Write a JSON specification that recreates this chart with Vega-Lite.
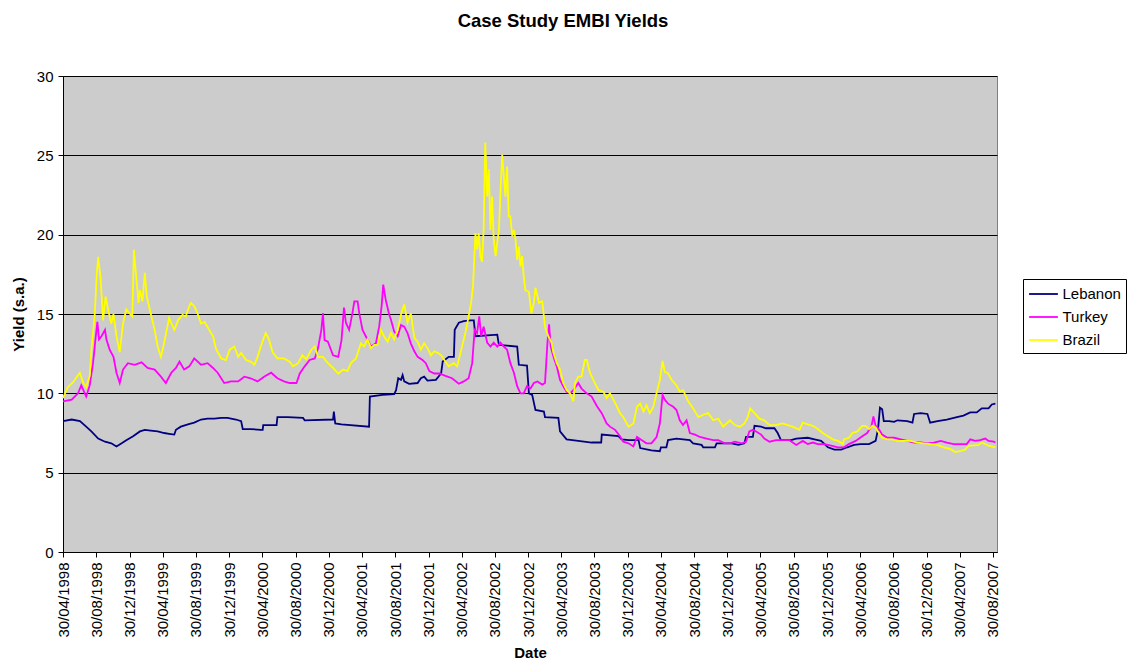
{
"$schema": "https://vega.github.io/schema/vega-lite/v6.json",
"width": 934, "height": 476,
"autosize": {"type": "none"},
"padding": {"left": 63, "top": 76, "right": 136, "bottom": 114},
"background": "white",
"title": {"text": "Case Study EMBI Yields", "font": "Liberation Sans", "fontSize": 18.5, "fontWeight": "bold", "color": "black", "anchor": "middle", "frame": "group", "dx": 33, "offset": 24, "baseline": "alphabetic"},
"config": {"view": {"fill": "#cccccc", "stroke": "#808080", "strokeWidth": 1}},
"data": {"values": [
{"s":"Lebanon","d":"1998-04-30","v":8.25},{"s":"Lebanon","d":"1998-06-01","v":8.35},{"s":"Lebanon","d":"1998-07-01","v":8.25},{"s":"Lebanon","d":"1998-07-24","v":7.9},{"s":"Lebanon","d":"1998-08-12","v":7.6},{"s":"Lebanon","d":"1998-09-06","v":7.15},{"s":"Lebanon","d":"1998-10-01","v":6.95},{"s":"Lebanon","d":"1998-10-24","v":6.85},{"s":"Lebanon","d":"1998-11-12","v":6.65},{"s":"Lebanon","d":"1998-12-01","v":6.85},{"s":"Lebanon","d":"1998-12-18","v":7.05},{"s":"Lebanon","d":"1999-01-12","v":7.3},{"s":"Lebanon","d":"1999-02-06","v":7.6},{"s":"Lebanon","d":"1999-02-24","v":7.7},{"s":"Lebanon","d":"1999-03-18","v":7.65},{"s":"Lebanon","d":"1999-04-12","v":7.6},{"s":"Lebanon","d":"1999-05-06","v":7.5},{"s":"Lebanon","d":"1999-05-24","v":7.45},{"s":"Lebanon","d":"1999-06-12","v":7.4},{"s":"Lebanon","d":"1999-06-18","v":7.7},{"s":"Lebanon","d":"1999-07-06","v":7.9},{"s":"Lebanon","d":"1999-08-01","v":8.05},{"s":"Lebanon","d":"1999-08-24","v":8.15},{"s":"Lebanon","d":"1999-09-18","v":8.35},{"s":"Lebanon","d":"1999-10-12","v":8.4},{"s":"Lebanon","d":"1999-11-06","v":8.4},{"s":"Lebanon","d":"1999-12-01","v":8.45},{"s":"Lebanon","d":"1999-12-24","v":8.45},{"s":"Lebanon","d":"2000-01-24","v":8.35},{"s":"Lebanon","d":"2000-02-12","v":8.25},{"s":"Lebanon","d":"2000-02-18","v":7.75},{"s":"Lebanon","d":"2000-03-18","v":7.75},{"s":"Lebanon","d":"2000-04-24","v":7.7},{"s":"Lebanon","d":"2000-05-01","v":7.7},{"s":"Lebanon","d":"2000-05-03","v":8.0},{"s":"Lebanon","d":"2000-06-21","v":8.0},{"s":"Lebanon","d":"2000-06-24","v":8.5},{"s":"Lebanon","d":"2000-08-01","v":8.5},{"s":"Lebanon","d":"2000-09-26","v":8.45},{"s":"Lebanon","d":"2000-10-02","v":8.3},{"s":"Lebanon","d":"2001-01-14","v":8.35},{"s":"Lebanon","d":"2001-01-17","v":8.85},{"s":"Lebanon","d":"2001-01-22","v":8.1},{"s":"Lebanon","d":"2001-02-14","v":8.05},{"s":"Lebanon","d":"2001-05-26","v":7.9},{"s":"Lebanon","d":"2001-05-29","v":9.8},{"s":"Lebanon","d":"2001-07-14","v":9.9},{"s":"Lebanon","d":"2001-08-26","v":9.95},{"s":"Lebanon","d":"2001-09-02","v":10.2},{"s":"Lebanon","d":"2001-09-10","v":10.95},{"s":"Lebanon","d":"2001-09-20","v":10.85},{"s":"Lebanon","d":"2001-09-26","v":11.15},{"s":"Lebanon","d":"2001-10-02","v":10.75},{"s":"Lebanon","d":"2001-10-20","v":10.6},{"s":"Lebanon","d":"2001-11-20","v":10.65},{"s":"Lebanon","d":"2001-12-02","v":10.95},{"s":"Lebanon","d":"2001-12-14","v":11.05},{"s":"Lebanon","d":"2001-12-26","v":10.8},{"s":"Lebanon","d":"2002-01-26","v":10.85},{"s":"Lebanon","d":"2002-02-14","v":11.25},{"s":"Lebanon","d":"2002-02-20","v":12.0},{"s":"Lebanon","d":"2002-03-14","v":12.3},{"s":"Lebanon","d":"2002-04-02","v":12.3},{"s":"Lebanon","d":"2002-04-05","v":14.0},{"s":"Lebanon","d":"2002-04-20","v":14.45},{"s":"Lebanon","d":"2002-05-08","v":14.55},{"s":"Lebanon","d":"2002-06-02","v":14.6},{"s":"Lebanon","d":"2002-06-14","v":14.6},{"s":"Lebanon","d":"2002-06-20","v":13.6},{"s":"Lebanon","d":"2002-09-08","v":13.7},{"s":"Lebanon","d":"2002-09-14","v":13.05},{"s":"Lebanon","d":"2002-11-20","v":12.95},{"s":"Lebanon","d":"2002-11-26","v":11.8},{"s":"Lebanon","d":"2002-12-26","v":11.75},{"s":"Lebanon","d":"2003-01-02","v":10.0},{"s":"Lebanon","d":"2003-01-14","v":9.9},{"s":"Lebanon","d":"2003-01-26","v":8.95},{"s":"Lebanon","d":"2003-02-26","v":8.85},{"s":"Lebanon","d":"2003-03-02","v":8.5},{"s":"Lebanon","d":"2003-04-20","v":8.45},{"s":"Lebanon","d":"2003-04-26","v":7.6},{"s":"Lebanon","d":"2003-05-20","v":7.1},{"s":"Lebanon","d":"2003-07-02","v":7.0},{"s":"Lebanon","d":"2003-08-20","v":6.9},{"s":"Lebanon","d":"2003-09-24","v":6.9},{"s":"Lebanon","d":"2003-09-26","v":7.4},{"s":"Lebanon","d":"2003-11-26","v":7.3},{"s":"Lebanon","d":"2003-12-08","v":7.1},{"s":"Lebanon","d":"2004-01-03","v":7.05},{"s":"Lebanon","d":"2004-02-08","v":7.05},{"s":"Lebanon","d":"2004-02-14","v":6.55},{"s":"Lebanon","d":"2004-03-26","v":6.4},{"s":"Lebanon","d":"2004-04-26","v":6.35},{"s":"Lebanon","d":"2004-04-30","v":6.6},{"s":"Lebanon","d":"2004-05-20","v":6.6},{"s":"Lebanon","d":"2004-05-26","v":7.05},{"s":"Lebanon","d":"2004-06-26","v":7.15},{"s":"Lebanon","d":"2004-08-14","v":7.05},{"s":"Lebanon","d":"2004-08-26","v":6.85},{"s":"Lebanon","d":"2004-09-26","v":6.75},{"s":"Lebanon","d":"2004-10-02","v":6.6},{"s":"Lebanon","d":"2004-11-14","v":6.6},{"s":"Lebanon","d":"2004-11-20","v":6.85},{"s":"Lebanon","d":"2005-01-14","v":6.85},{"s":"Lebanon","d":"2005-02-08","v":6.75},{"s":"Lebanon","d":"2005-03-02","v":6.85},{"s":"Lebanon","d":"2005-03-08","v":7.25},{"s":"Lebanon","d":"2005-04-02","v":7.25},{"s":"Lebanon","d":"2005-04-08","v":7.95},{"s":"Lebanon","d":"2005-05-02","v":7.9},{"s":"Lebanon","d":"2005-05-20","v":7.8},{"s":"Lebanon","d":"2005-06-20","v":7.8},{"s":"Lebanon","d":"2005-07-02","v":7.5},{"s":"Lebanon","d":"2005-07-14","v":7.05},{"s":"Lebanon","d":"2005-08-20","v":7.05},{"s":"Lebanon","d":"2005-09-08","v":7.15},{"s":"Lebanon","d":"2005-10-20","v":7.2},{"s":"Lebanon","d":"2005-11-14","v":7.1},{"s":"Lebanon","d":"2005-12-08","v":7.0},{"s":"Lebanon","d":"2006-01-02","v":6.6},{"s":"Lebanon","d":"2006-01-26","v":6.45},{"s":"Lebanon","d":"2006-02-20","v":6.45},{"s":"Lebanon","d":"2006-03-14","v":6.6},{"s":"Lebanon","d":"2006-04-08","v":6.75},{"s":"Lebanon","d":"2006-05-02","v":6.8},{"s":"Lebanon","d":"2006-06-02","v":6.8},{"s":"Lebanon","d":"2006-06-26","v":7.0},{"s":"Lebanon","d":"2006-07-05","v":7.75},{"s":"Lebanon","d":"2006-07-12","v":9.1},{"s":"Lebanon","d":"2006-07-20","v":9.0},{"s":"Lebanon","d":"2006-07-26","v":8.25},{"s":"Lebanon","d":"2006-08-14","v":8.25},{"s":"Lebanon","d":"2006-09-02","v":8.2},{"s":"Lebanon","d":"2006-09-14","v":8.3},{"s":"Lebanon","d":"2006-10-20","v":8.25},{"s":"Lebanon","d":"2006-11-08","v":8.15},{"s":"Lebanon","d":"2006-11-14","v":8.7},{"s":"Lebanon","d":"2006-12-08","v":8.75},{"s":"Lebanon","d":"2007-01-02","v":8.7},{"s":"Lebanon","d":"2007-01-12","v":8.15},{"s":"Lebanon","d":"2007-02-08","v":8.25},{"s":"Lebanon","d":"2007-03-14","v":8.35},{"s":"Lebanon","d":"2007-04-20","v":8.5},{"s":"Lebanon","d":"2007-05-14","v":8.6},{"s":"Lebanon","d":"2007-06-08","v":8.8},{"s":"Lebanon","d":"2007-07-02","v":8.8},{"s":"Lebanon","d":"2007-07-20","v":9.05},{"s":"Lebanon","d":"2007-08-14","v":9.05},{"s":"Lebanon","d":"2007-08-26","v":9.3},{"s":"Lebanon","d":"2007-09-08","v":9.35},
{"s":"Turkey","d":"1998-04-30","v":9.5},{"s":"Turkey","d":"1998-06-01","v":9.6},{"s":"Turkey","d":"1998-06-24","v":10.0},{"s":"Turkey","d":"1998-07-06","v":10.5},{"s":"Turkey","d":"1998-07-24","v":9.8},{"s":"Turkey","d":"1998-08-06","v":10.5},{"s":"Turkey","d":"1998-08-18","v":11.9},{"s":"Turkey","d":"1998-08-27","v":13.4},{"s":"Turkey","d":"1998-09-03","v":14.5},{"s":"Turkey","d":"1998-09-09","v":13.4},{"s":"Turkey","d":"1998-09-18","v":13.6},{"s":"Turkey","d":"1998-10-01","v":14.0},{"s":"Turkey","d":"1998-10-06","v":13.4},{"s":"Turkey","d":"1998-10-18","v":12.75},{"s":"Turkey","d":"1998-11-01","v":12.3},{"s":"Turkey","d":"1998-11-12","v":11.3},{"s":"Turkey","d":"1998-11-24","v":10.65},{"s":"Turkey","d":"1998-12-06","v":11.5},{"s":"Turkey","d":"1998-12-24","v":11.9},{"s":"Turkey","d":"1999-01-18","v":11.8},{"s":"Turkey","d":"1999-02-12","v":11.95},{"s":"Turkey","d":"1999-03-06","v":11.6},{"s":"Turkey","d":"1999-04-01","v":11.5},{"s":"Turkey","d":"1999-04-24","v":11.05},{"s":"Turkey","d":"1999-05-12","v":10.65},{"s":"Turkey","d":"1999-06-01","v":11.3},{"s":"Turkey","d":"1999-06-18","v":11.6},{"s":"Turkey","d":"1999-07-01","v":12.0},{"s":"Turkey","d":"1999-07-18","v":11.5},{"s":"Turkey","d":"1999-08-06","v":11.7},{"s":"Turkey","d":"1999-08-24","v":12.2},{"s":"Turkey","d":"1999-09-18","v":11.8},{"s":"Turkey","d":"1999-10-12","v":11.9},{"s":"Turkey","d":"1999-11-01","v":11.6},{"s":"Turkey","d":"1999-11-18","v":11.3},{"s":"Turkey","d":"1999-12-12","v":10.65},{"s":"Turkey","d":"2000-01-06","v":10.75},{"s":"Turkey","d":"2000-02-01","v":10.75},{"s":"Turkey","d":"2000-02-24","v":11.05},{"s":"Turkey","d":"2000-03-18","v":10.95},{"s":"Turkey","d":"2000-04-12","v":10.75},{"s":"Turkey","d":"2000-05-06","v":11.05},{"s":"Turkey","d":"2000-06-01","v":11.3},{"s":"Turkey","d":"2000-06-24","v":10.95},{"s":"Turkey","d":"2000-07-18","v":10.75},{"s":"Turkey","d":"2000-08-08","v":10.65},{"s":"Turkey","d":"2000-09-02","v":10.65},{"s":"Turkey","d":"2000-09-14","v":11.25},{"s":"Turkey","d":"2000-10-02","v":11.7},{"s":"Turkey","d":"2000-10-20","v":12.1},{"s":"Turkey","d":"2000-11-08","v":12.2},{"s":"Turkey","d":"2000-11-20","v":12.85},{"s":"Turkey","d":"2000-12-02","v":14.0},{"s":"Turkey","d":"2000-12-08","v":15.05},{"s":"Turkey","d":"2000-12-14","v":13.35},{"s":"Turkey","d":"2000-12-26","v":13.25},{"s":"Turkey","d":"2001-01-14","v":12.4},{"s":"Turkey","d":"2001-02-02","v":12.3},{"s":"Turkey","d":"2001-02-14","v":13.35},{"s":"Turkey","d":"2001-02-23","v":15.4},{"s":"Turkey","d":"2001-03-02","v":14.45},{"s":"Turkey","d":"2001-03-14","v":14.0},{"s":"Turkey","d":"2001-03-26","v":15.05},{"s":"Turkey","d":"2001-04-02","v":15.8},{"s":"Turkey","d":"2001-04-14","v":15.8},{"s":"Turkey","d":"2001-04-20","v":15.05},{"s":"Turkey","d":"2001-05-02","v":14.0},{"s":"Turkey","d":"2001-05-14","v":13.6},{"s":"Turkey","d":"2001-06-02","v":12.95},{"s":"Turkey","d":"2001-06-20","v":13.15},{"s":"Turkey","d":"2001-07-02","v":14.2},{"s":"Turkey","d":"2001-07-11","v":15.5},{"s":"Turkey","d":"2001-07-17","v":16.85},{"s":"Turkey","d":"2001-07-26","v":15.9},{"s":"Turkey","d":"2001-08-08","v":14.95},{"s":"Turkey","d":"2001-08-14","v":14.65},{"s":"Turkey","d":"2001-08-26","v":13.9},{"s":"Turkey","d":"2001-09-08","v":13.6},{"s":"Turkey","d":"2001-09-20","v":14.3},{"s":"Turkey","d":"2001-10-02","v":14.2},{"s":"Turkey","d":"2001-10-14","v":13.8},{"s":"Turkey","d":"2001-10-26","v":13.15},{"s":"Turkey","d":"2001-11-08","v":12.65},{"s":"Turkey","d":"2001-11-20","v":12.3},{"s":"Turkey","d":"2001-12-08","v":12.1},{"s":"Turkey","d":"2001-12-20","v":11.9},{"s":"Turkey","d":"2002-01-02","v":11.4},{"s":"Turkey","d":"2002-01-20","v":11.25},{"s":"Turkey","d":"2002-02-08","v":11.25},{"s":"Turkey","d":"2002-03-02","v":11.1},{"s":"Turkey","d":"2002-03-26","v":10.95},{"s":"Turkey","d":"2002-04-20","v":10.6},{"s":"Turkey","d":"2002-05-08","v":10.75},{"s":"Turkey","d":"2002-05-26","v":10.95},{"s":"Turkey","d":"2002-06-08","v":11.9},{"s":"Turkey","d":"2002-06-17","v":14.0},{"s":"Turkey","d":"2002-06-26","v":13.8},{"s":"Turkey","d":"2002-07-04","v":14.85},{"s":"Turkey","d":"2002-07-11","v":13.6},{"s":"Turkey","d":"2002-07-20","v":14.2},{"s":"Turkey","d":"2002-08-02","v":13.2},{"s":"Turkey","d":"2002-08-14","v":12.95},{"s":"Turkey","d":"2002-08-26","v":13.2},{"s":"Turkey","d":"2002-09-08","v":12.95},{"s":"Turkey","d":"2002-09-20","v":13.2},{"s":"Turkey","d":"2002-10-02","v":12.95},{"s":"Turkey","d":"2002-10-14","v":12.75},{"s":"Turkey","d":"2002-10-26","v":11.9},{"s":"Turkey","d":"2002-11-08","v":11.3},{"s":"Turkey","d":"2002-11-20","v":10.45},{"s":"Turkey","d":"2002-12-02","v":10.0},{"s":"Turkey","d":"2002-12-14","v":10.0},{"s":"Turkey","d":"2002-12-26","v":10.45},{"s":"Turkey","d":"2003-01-08","v":10.3},{"s":"Turkey","d":"2003-01-20","v":10.65},{"s":"Turkey","d":"2003-02-02","v":10.75},{"s":"Turkey","d":"2003-02-20","v":10.55},{"s":"Turkey","d":"2003-03-02","v":10.65},{"s":"Turkey","d":"2003-03-11","v":13.2},{"s":"Turkey","d":"2003-03-17","v":14.35},{"s":"Turkey","d":"2003-03-23","v":12.95},{"s":"Turkey","d":"2003-04-02","v":12.3},{"s":"Turkey","d":"2003-04-14","v":11.7},{"s":"Turkey","d":"2003-04-26","v":10.85},{"s":"Turkey","d":"2003-05-08","v":10.45},{"s":"Turkey","d":"2003-05-20","v":10.1},{"s":"Turkey","d":"2003-06-02","v":10.0},{"s":"Turkey","d":"2003-06-14","v":10.2},{"s":"Turkey","d":"2003-07-02","v":10.65},{"s":"Turkey","d":"2003-07-14","v":10.3},{"s":"Turkey","d":"2003-08-02","v":10.0},{"s":"Turkey","d":"2003-08-20","v":9.8},{"s":"Turkey","d":"2003-09-08","v":9.2},{"s":"Turkey","d":"2003-09-26","v":8.75},{"s":"Turkey","d":"2003-10-14","v":8.1},{"s":"Turkey","d":"2003-10-26","v":7.9},{"s":"Turkey","d":"2003-11-14","v":7.7},{"s":"Turkey","d":"2003-12-02","v":7.3},{"s":"Turkey","d":"2003-12-14","v":6.95},{"s":"Turkey","d":"2004-01-02","v":6.85},{"s":"Turkey","d":"2004-01-20","v":6.65},{"s":"Turkey","d":"2004-02-02","v":7.25},{"s":"Turkey","d":"2004-02-20","v":7.05},{"s":"Turkey","d":"2004-03-08","v":6.85},{"s":"Turkey","d":"2004-03-26","v":6.85},{"s":"Turkey","d":"2004-04-14","v":7.25},{"s":"Turkey","d":"2004-04-26","v":8.1},{"s":"Turkey","d":"2004-05-06","v":9.9},{"s":"Turkey","d":"2004-05-14","v":9.6},{"s":"Turkey","d":"2004-05-26","v":9.35},{"s":"Turkey","d":"2004-06-14","v":9.15},{"s":"Turkey","d":"2004-06-26","v":8.95},{"s":"Turkey","d":"2004-07-08","v":8.3},{"s":"Turkey","d":"2004-07-20","v":8.0},{"s":"Turkey","d":"2004-08-02","v":8.3},{"s":"Turkey","d":"2004-08-14","v":7.5},{"s":"Turkey","d":"2004-09-02","v":7.4},{"s":"Turkey","d":"2004-09-20","v":7.25},{"s":"Turkey","d":"2004-10-14","v":7.15},{"s":"Turkey","d":"2004-11-08","v":7.05},{"s":"Turkey","d":"2004-11-26","v":7.05},{"s":"Turkey","d":"2004-12-20","v":6.85},{"s":"Turkey","d":"2005-01-08","v":6.85},{"s":"Turkey","d":"2005-01-26","v":6.95},{"s":"Turkey","d":"2005-02-20","v":6.85},{"s":"Turkey","d":"2005-03-08","v":6.95},{"s":"Turkey","d":"2005-03-20","v":7.6},{"s":"Turkey","d":"2005-04-02","v":7.7},{"s":"Turkey","d":"2005-04-14","v":7.6},{"s":"Turkey","d":"2005-05-02","v":7.4},{"s":"Turkey","d":"2005-05-14","v":7.15},{"s":"Turkey","d":"2005-06-02","v":6.95},{"s":"Turkey","d":"2005-06-26","v":7.05},{"s":"Turkey","d":"2005-07-20","v":7.05},{"s":"Turkey","d":"2005-08-14","v":7.05},{"s":"Turkey","d":"2005-09-08","v":6.75},{"s":"Turkey","d":"2005-10-02","v":7.0},{"s":"Turkey","d":"2005-10-20","v":6.8},{"s":"Turkey","d":"2005-11-08","v":6.9},{"s":"Turkey","d":"2005-11-26","v":6.8},{"s":"Turkey","d":"2005-12-20","v":6.8},{"s":"Turkey","d":"2006-01-14","v":6.7},{"s":"Turkey","d":"2006-02-08","v":6.6},{"s":"Turkey","d":"2006-03-02","v":6.6},{"s":"Turkey","d":"2006-03-20","v":6.8},{"s":"Turkey","d":"2006-04-14","v":7.0},{"s":"Turkey","d":"2006-05-08","v":7.3},{"s":"Turkey","d":"2006-05-26","v":7.5},{"s":"Turkey","d":"2006-06-11","v":7.95},{"s":"Turkey","d":"2006-06-18","v":8.55},{"s":"Turkey","d":"2006-06-26","v":7.95},{"s":"Turkey","d":"2006-07-08","v":7.75},{"s":"Turkey","d":"2006-07-20","v":7.4},{"s":"Turkey","d":"2006-08-08","v":7.2},{"s":"Turkey","d":"2006-09-02","v":7.2},{"s":"Turkey","d":"2006-09-26","v":7.1},{"s":"Turkey","d":"2006-10-20","v":7.0},{"s":"Turkey","d":"2006-11-14","v":6.9},{"s":"Turkey","d":"2006-12-08","v":6.9},{"s":"Turkey","d":"2007-01-02","v":6.85},{"s":"Turkey","d":"2007-01-26","v":6.9},{"s":"Turkey","d":"2007-02-20","v":7.0},{"s":"Turkey","d":"2007-03-14","v":6.9},{"s":"Turkey","d":"2007-04-08","v":6.8},{"s":"Turkey","d":"2007-05-02","v":6.8},{"s":"Turkey","d":"2007-05-26","v":6.8},{"s":"Turkey","d":"2007-06-08","v":7.1},{"s":"Turkey","d":"2007-06-26","v":7.0},{"s":"Turkey","d":"2007-07-14","v":7.05},{"s":"Turkey","d":"2007-08-02","v":7.15},{"s":"Turkey","d":"2007-08-14","v":7.0},{"s":"Turkey","d":"2007-09-02","v":6.95},{"s":"Turkey","d":"2007-09-08","v":6.9},
{"s":"Brazil","d":"1998-04-30","v":9.7},{"s":"Brazil","d":"1998-05-18","v":10.4},{"s":"Brazil","d":"1998-06-06","v":10.7},{"s":"Brazil","d":"1998-07-01","v":11.3},{"s":"Brazil","d":"1998-07-12","v":10.7},{"s":"Brazil","d":"1998-07-24","v":10.4},{"s":"Brazil","d":"1998-08-06","v":11.1},{"s":"Brazil","d":"1998-08-12","v":12.75},{"s":"Brazil","d":"1998-08-24","v":14.85},{"s":"Brazil","d":"1998-09-01","v":17.6},{"s":"Brazil","d":"1998-09-06","v":18.6},{"s":"Brazil","d":"1998-09-15","v":17.2},{"s":"Brazil","d":"1998-09-24","v":14.6},{"s":"Brazil","d":"1998-10-03","v":16.1},{"s":"Brazil","d":"1998-10-12","v":15.3},{"s":"Brazil","d":"1998-10-24","v":14.4},{"s":"Brazil","d":"1998-11-01","v":15.0},{"s":"Brazil","d":"1998-11-12","v":13.6},{"s":"Brazil","d":"1998-11-24","v":12.6},{"s":"Brazil","d":"1998-12-06","v":14.4},{"s":"Brazil","d":"1998-12-18","v":15.3},{"s":"Brazil","d":"1999-01-01","v":15.0},{"s":"Brazil","d":"1999-01-09","v":14.85},{"s":"Brazil","d":"1999-01-15","v":19.05},{"s":"Brazil","d":"1999-01-21","v":17.8},{"s":"Brazil","d":"1999-02-01","v":15.7},{"s":"Brazil","d":"1999-02-06","v":16.5},{"s":"Brazil","d":"1999-02-15","v":15.8},{"s":"Brazil","d":"1999-02-24","v":17.6},{"s":"Brazil","d":"1999-03-03","v":16.1},{"s":"Brazil","d":"1999-03-18","v":15.0},{"s":"Brazil","d":"1999-04-01","v":14.0},{"s":"Brazil","d":"1999-04-12","v":12.95},{"s":"Brazil","d":"1999-04-24","v":12.3},{"s":"Brazil","d":"1999-05-06","v":13.2},{"s":"Brazil","d":"1999-05-24","v":14.75},{"s":"Brazil","d":"1999-06-12","v":14.0},{"s":"Brazil","d":"1999-06-27","v":14.65},{"s":"Brazil","d":"1999-07-12","v":14.95},{"s":"Brazil","d":"1999-07-24","v":14.85},{"s":"Brazil","d":"1999-08-06","v":15.5},{"s":"Brazil","d":"1999-08-12","v":15.7},{"s":"Brazil","d":"1999-08-24","v":15.5},{"s":"Brazil","d":"1999-09-06","v":15.0},{"s":"Brazil","d":"1999-09-18","v":14.4},{"s":"Brazil","d":"1999-10-01","v":14.5},{"s":"Brazil","d":"1999-10-18","v":14.0},{"s":"Brazil","d":"1999-11-01","v":13.6},{"s":"Brazil","d":"1999-11-12","v":12.8},{"s":"Brazil","d":"1999-12-01","v":12.2},{"s":"Brazil","d":"1999-12-18","v":12.1},{"s":"Brazil","d":"2000-01-01","v":12.75},{"s":"Brazil","d":"2000-01-18","v":12.95},{"s":"Brazil","d":"2000-02-01","v":12.3},{"s":"Brazil","d":"2000-02-12","v":12.55},{"s":"Brazil","d":"2000-03-01","v":12.1},{"s":"Brazil","d":"2000-03-18","v":12.0},{"s":"Brazil","d":"2000-04-01","v":11.8},{"s":"Brazil","d":"2000-04-12","v":12.3},{"s":"Brazil","d":"2000-04-24","v":12.95},{"s":"Brazil","d":"2000-05-12","v":13.8},{"s":"Brazil","d":"2000-05-24","v":13.4},{"s":"Brazil","d":"2000-06-06","v":12.6},{"s":"Brazil","d":"2000-06-24","v":12.2},{"s":"Brazil","d":"2000-07-18","v":12.2},{"s":"Brazil","d":"2000-08-08","v":12.0},{"s":"Brazil","d":"2000-08-20","v":11.7},{"s":"Brazil","d":"2000-09-08","v":11.9},{"s":"Brazil","d":"2000-09-23","v":12.4},{"s":"Brazil","d":"2000-10-08","v":12.15},{"s":"Brazil","d":"2000-10-26","v":12.75},{"s":"Brazil","d":"2000-11-08","v":12.95},{"s":"Brazil","d":"2000-11-20","v":12.3},{"s":"Brazil","d":"2000-12-08","v":12.3},{"s":"Brazil","d":"2000-12-26","v":11.9},{"s":"Brazil","d":"2001-01-14","v":11.6},{"s":"Brazil","d":"2001-02-02","v":11.25},{"s":"Brazil","d":"2001-02-20","v":11.5},{"s":"Brazil","d":"2001-03-08","v":11.4},{"s":"Brazil","d":"2001-03-20","v":11.9},{"s":"Brazil","d":"2001-04-08","v":12.2},{"s":"Brazil","d":"2001-04-26","v":13.15},{"s":"Brazil","d":"2001-05-08","v":12.95},{"s":"Brazil","d":"2001-05-20","v":13.4},{"s":"Brazil","d":"2001-06-02","v":12.85},{"s":"Brazil","d":"2001-06-14","v":13.05},{"s":"Brazil","d":"2001-06-26","v":13.05},{"s":"Brazil","d":"2001-07-08","v":14.0},{"s":"Brazil","d":"2001-07-20","v":13.6},{"s":"Brazil","d":"2001-08-02","v":13.25},{"s":"Brazil","d":"2001-08-14","v":13.8},{"s":"Brazil","d":"2001-08-26","v":13.4},{"s":"Brazil","d":"2001-09-08","v":14.0},{"s":"Brazil","d":"2001-09-20","v":14.95},{"s":"Brazil","d":"2001-10-02","v":15.6},{"s":"Brazil","d":"2001-10-14","v":14.45},{"s":"Brazil","d":"2001-10-26","v":15.05},{"s":"Brazil","d":"2001-11-08","v":13.5},{"s":"Brazil","d":"2001-11-20","v":13.25},{"s":"Brazil","d":"2001-12-02","v":12.75},{"s":"Brazil","d":"2001-12-14","v":13.15},{"s":"Brazil","d":"2001-12-26","v":12.85},{"s":"Brazil","d":"2002-01-08","v":12.4},{"s":"Brazil","d":"2002-01-20","v":12.65},{"s":"Brazil","d":"2002-02-02","v":12.55},{"s":"Brazil","d":"2002-02-14","v":12.4},{"s":"Brazil","d":"2002-02-26","v":12.1},{"s":"Brazil","d":"2002-03-14","v":11.7},{"s":"Brazil","d":"2002-04-02","v":11.9},{"s":"Brazil","d":"2002-04-14","v":11.7},{"s":"Brazil","d":"2002-04-26","v":12.55},{"s":"Brazil","d":"2002-05-14","v":13.8},{"s":"Brazil","d":"2002-05-26","v":14.85},{"s":"Brazil","d":"2002-06-04","v":15.7},{"s":"Brazil","d":"2002-06-11","v":16.75},{"s":"Brazil","d":"2002-06-20","v":20.1},{"s":"Brazil","d":"2002-06-26","v":19.05},{"s":"Brazil","d":"2002-07-02","v":20.1},{"s":"Brazil","d":"2002-07-08","v":18.65},{"s":"Brazil","d":"2002-07-14","v":18.3},{"s":"Brazil","d":"2002-07-20","v":20.3},{"s":"Brazil","d":"2002-07-26","v":25.8},{"s":"Brazil","d":"2002-08-02","v":22.4},{"s":"Brazil","d":"2002-08-08","v":24.1},{"s":"Brazil","d":"2002-08-14","v":20.3},{"s":"Brazil","d":"2002-08-20","v":22.4},{"s":"Brazil","d":"2002-08-26","v":19.7},{"s":"Brazil","d":"2002-09-02","v":18.65},{"s":"Brazil","d":"2002-09-08","v":19.5},{"s":"Brazil","d":"2002-09-14","v":20.3},{"s":"Brazil","d":"2002-09-20","v":22.8},{"s":"Brazil","d":"2002-09-26","v":25.05},{"s":"Brazil","d":"2002-10-02","v":23.7},{"s":"Brazil","d":"2002-10-08","v":22.4},{"s":"Brazil","d":"2002-10-14","v":24.3},{"s":"Brazil","d":"2002-10-20","v":21.15},{"s":"Brazil","d":"2002-10-26","v":21.15},{"s":"Brazil","d":"2002-11-02","v":19.9},{"s":"Brazil","d":"2002-11-08","v":20.3},{"s":"Brazil","d":"2002-11-14","v":19.7},{"s":"Brazil","d":"2002-11-20","v":18.4},{"s":"Brazil","d":"2002-11-26","v":19.25},{"s":"Brazil","d":"2002-12-02","v":18.0},{"s":"Brazil","d":"2002-12-08","v":18.65},{"s":"Brazil","d":"2002-12-14","v":17.4},{"s":"Brazil","d":"2002-12-20","v":16.5},{"s":"Brazil","d":"2003-01-02","v":16.4},{"s":"Brazil","d":"2003-01-11","v":15.05},{"s":"Brazil","d":"2003-01-20","v":15.7},{"s":"Brazil","d":"2003-01-26","v":16.65},{"s":"Brazil","d":"2003-02-08","v":15.7},{"s":"Brazil","d":"2003-02-20","v":15.8},{"s":"Brazil","d":"2003-03-02","v":14.2},{"s":"Brazil","d":"2003-03-14","v":13.6},{"s":"Brazil","d":"2003-03-26","v":13.2},{"s":"Brazil","d":"2003-04-02","v":12.55},{"s":"Brazil","d":"2003-04-14","v":11.9},{"s":"Brazil","d":"2003-04-26","v":11.5},{"s":"Brazil","d":"2003-05-08","v":10.65},{"s":"Brazil","d":"2003-05-20","v":10.2},{"s":"Brazil","d":"2003-06-02","v":10.0},{"s":"Brazil","d":"2003-06-14","v":9.5},{"s":"Brazil","d":"2003-06-20","v":10.65},{"s":"Brazil","d":"2003-07-02","v":11.05},{"s":"Brazil","d":"2003-07-14","v":11.05},{"s":"Brazil","d":"2003-07-26","v":12.1},{"s":"Brazil","d":"2003-08-02","v":12.1},{"s":"Brazil","d":"2003-08-14","v":11.3},{"s":"Brazil","d":"2003-08-26","v":10.85},{"s":"Brazil","d":"2003-09-14","v":10.2},{"s":"Brazil","d":"2003-10-02","v":10.1},{"s":"Brazil","d":"2003-10-14","v":9.7},{"s":"Brazil","d":"2003-10-26","v":10.0},{"s":"Brazil","d":"2003-11-14","v":9.4},{"s":"Brazil","d":"2003-12-02","v":8.75},{"s":"Brazil","d":"2003-12-14","v":8.5},{"s":"Brazil","d":"2004-01-02","v":7.9},{"s":"Brazil","d":"2004-01-20","v":8.1},{"s":"Brazil","d":"2004-02-02","v":9.15},{"s":"Brazil","d":"2004-02-14","v":9.35},{"s":"Brazil","d":"2004-02-26","v":8.85},{"s":"Brazil","d":"2004-03-08","v":9.25},{"s":"Brazil","d":"2004-03-20","v":8.75},{"s":"Brazil","d":"2004-04-02","v":9.15},{"s":"Brazil","d":"2004-04-14","v":10.0},{"s":"Brazil","d":"2004-04-26","v":10.85},{"s":"Brazil","d":"2004-05-06","v":12.05},{"s":"Brazil","d":"2004-05-14","v":11.35},{"s":"Brazil","d":"2004-05-26","v":11.25},{"s":"Brazil","d":"2004-06-08","v":10.85},{"s":"Brazil","d":"2004-06-26","v":10.5},{"s":"Brazil","d":"2004-07-08","v":10.1},{"s":"Brazil","d":"2004-07-20","v":10.2},{"s":"Brazil","d":"2004-08-08","v":9.5},{"s":"Brazil","d":"2004-08-26","v":9.05},{"s":"Brazil","d":"2004-09-14","v":8.5},{"s":"Brazil","d":"2004-10-02","v":8.65},{"s":"Brazil","d":"2004-10-20","v":8.75},{"s":"Brazil","d":"2004-11-08","v":8.3},{"s":"Brazil","d":"2004-11-26","v":8.4},{"s":"Brazil","d":"2004-12-14","v":7.9},{"s":"Brazil","d":"2005-01-08","v":8.3},{"s":"Brazil","d":"2005-01-26","v":8.0},{"s":"Brazil","d":"2005-02-14","v":7.9},{"s":"Brazil","d":"2005-03-02","v":8.1},{"s":"Brazil","d":"2005-03-14","v":8.5},{"s":"Brazil","d":"2005-03-23","v":9.05},{"s":"Brazil","d":"2005-04-08","v":8.75},{"s":"Brazil","d":"2005-04-26","v":8.4},{"s":"Brazil","d":"2005-05-14","v":8.3},{"s":"Brazil","d":"2005-06-02","v":8.0},{"s":"Brazil","d":"2005-06-26","v":8.0},{"s":"Brazil","d":"2005-07-20","v":8.1},{"s":"Brazil","d":"2005-08-08","v":8.0},{"s":"Brazil","d":"2005-08-26","v":7.9},{"s":"Brazil","d":"2005-09-20","v":7.7},{"s":"Brazil","d":"2005-10-02","v":8.15},{"s":"Brazil","d":"2005-10-20","v":8.05},{"s":"Brazil","d":"2005-11-08","v":7.95},{"s":"Brazil","d":"2005-11-26","v":7.75},{"s":"Brazil","d":"2005-12-14","v":7.5},{"s":"Brazil","d":"2006-01-02","v":7.3},{"s":"Brazil","d":"2006-01-20","v":7.1},{"s":"Brazil","d":"2006-02-08","v":7.0},{"s":"Brazil","d":"2006-02-26","v":6.8},{"s":"Brazil","d":"2006-03-02","v":7.1},{"s":"Brazil","d":"2006-03-20","v":7.2},{"s":"Brazil","d":"2006-04-02","v":7.5},{"s":"Brazil","d":"2006-04-20","v":7.6},{"s":"Brazil","d":"2006-05-08","v":7.95},{"s":"Brazil","d":"2006-05-20","v":7.95},{"s":"Brazil","d":"2006-06-02","v":7.75},{"s":"Brazil","d":"2006-06-14","v":7.95},{"s":"Brazil","d":"2006-06-26","v":7.85},{"s":"Brazil","d":"2006-07-08","v":7.5},{"s":"Brazil","d":"2006-07-20","v":7.2},{"s":"Brazil","d":"2006-08-08","v":7.1},{"s":"Brazil","d":"2006-08-26","v":7.1},{"s":"Brazil","d":"2006-09-14","v":7.0},{"s":"Brazil","d":"2006-10-08","v":7.0},{"s":"Brazil","d":"2006-11-02","v":7.0},{"s":"Brazil","d":"2006-11-26","v":6.9},{"s":"Brazil","d":"2006-12-20","v":6.85},{"s":"Brazil","d":"2007-01-14","v":6.8},{"s":"Brazil","d":"2007-02-08","v":6.75},{"s":"Brazil","d":"2007-03-02","v":6.6},{"s":"Brazil","d":"2007-03-26","v":6.5},{"s":"Brazil","d":"2007-04-14","v":6.3},{"s":"Brazil","d":"2007-05-02","v":6.35},{"s":"Brazil","d":"2007-05-20","v":6.45},{"s":"Brazil","d":"2007-06-02","v":6.7},{"s":"Brazil","d":"2007-06-14","v":6.7},{"s":"Brazil","d":"2007-07-08","v":6.75},{"s":"Brazil","d":"2007-07-20","v":6.9},{"s":"Brazil","d":"2007-08-02","v":6.8},{"s":"Brazil","d":"2007-08-14","v":6.7},{"s":"Brazil","d":"2007-09-08","v":6.6}
]},
"mark": {"type": "line", "strokeWidth": 1.8},
"encoding": {
"x": {"field": "d", "type": "temporal", "title": "Date",
 "scale": {"type": "utc", "domain": [{"year":1998,"month":4,"date":30,"utc":true},{"year":2007,"month":9,"date":14,"utc":true}]},
 "axis": {"format": "%d/%m/%Y", "labelAngle": -90, "grid": false,
  "values": [{"year":1998,"month":4,"date":30,"utc":true},{"year":1998,"month":8,"date":30,"utc":true},{"year":1998,"month":12,"date":30,"utc":true},{"year":1999,"month":4,"date":30,"utc":true},{"year":1999,"month":8,"date":30,"utc":true},{"year":1999,"month":12,"date":30,"utc":true},{"year":2000,"month":4,"date":30,"utc":true},{"year":2000,"month":8,"date":30,"utc":true},{"year":2000,"month":12,"date":30,"utc":true},{"year":2001,"month":4,"date":30,"utc":true},{"year":2001,"month":8,"date":30,"utc":true},{"year":2001,"month":12,"date":30,"utc":true},{"year":2002,"month":4,"date":30,"utc":true},{"year":2002,"month":8,"date":30,"utc":true},{"year":2002,"month":12,"date":30,"utc":true},{"year":2003,"month":4,"date":30,"utc":true},{"year":2003,"month":8,"date":30,"utc":true},{"year":2003,"month":12,"date":30,"utc":true},{"year":2004,"month":4,"date":30,"utc":true},{"year":2004,"month":8,"date":30,"utc":true},{"year":2004,"month":12,"date":30,"utc":true},{"year":2005,"month":4,"date":30,"utc":true},{"year":2005,"month":8,"date":30,"utc":true},{"year":2005,"month":12,"date":30,"utc":true},{"year":2006,"month":4,"date":30,"utc":true},{"year":2006,"month":8,"date":30,"utc":true},{"year":2006,"month":12,"date":30,"utc":true},{"year":2007,"month":4,"date":30,"utc":true},{"year":2007,"month":8,"date":30,"utc":true}],
  "labelOverlap": false, "labelFlush": false, "labelBound": false,
  "domainColor": "black", "tickColor": "black", "tickSize": 5, "labelPadding": 5,
  "labelFont": "Liberation Sans", "labelFontSize": 15, "labelColor": "black",
  "titleFont": "Liberation Sans", "titleFontSize": 15, "titleFontWeight": "bold", "titleColor": "black", "titlePadding": 8}},
"y": {"field": "v", "type": "quantitative", "title": "Yield (s.a.)",
 "scale": {"domain": [0, 30], "nice": false},
 "axis": {"values": [0,5,10,15,20,25,30], "grid": true, "gridColor": "black", "gridOpacity": 1, "gridWidth": 1,
  "domainColor": "black", "tickColor": "black", "tickSize": 5, "labelPadding": 5,
  "labelFont": "Liberation Sans", "labelFontSize": 15, "labelColor": "black",
  "titleFont": "Liberation Sans", "titleFontSize": 15, "titleFontWeight": "bold", "titleColor": "black", "titlePadding": 10}},
"color": {"field": "s", "type": "nominal",
 "scale": {"domain": ["Lebanon", "Turkey", "Brazil"], "range": ["#000080", "#ff00ff", "#ffff00"]},
 "legend": {"title": null, "orient": "none", "legendX": 960, "legendY": 203, "fillColor": "white", "strokeColor": "black", "padding": 5,
  "symbolType": "M-1.6,0H1.6", "symbolSize": 324, "symbolOffset": 5.5, "symbolStrokeWidth": 1.8, "labelFont": "Liberation Sans", "labelFontSize": 15, "labelColor": "black", "labelOffset": 9, "rowPadding": 5}}
}
}
